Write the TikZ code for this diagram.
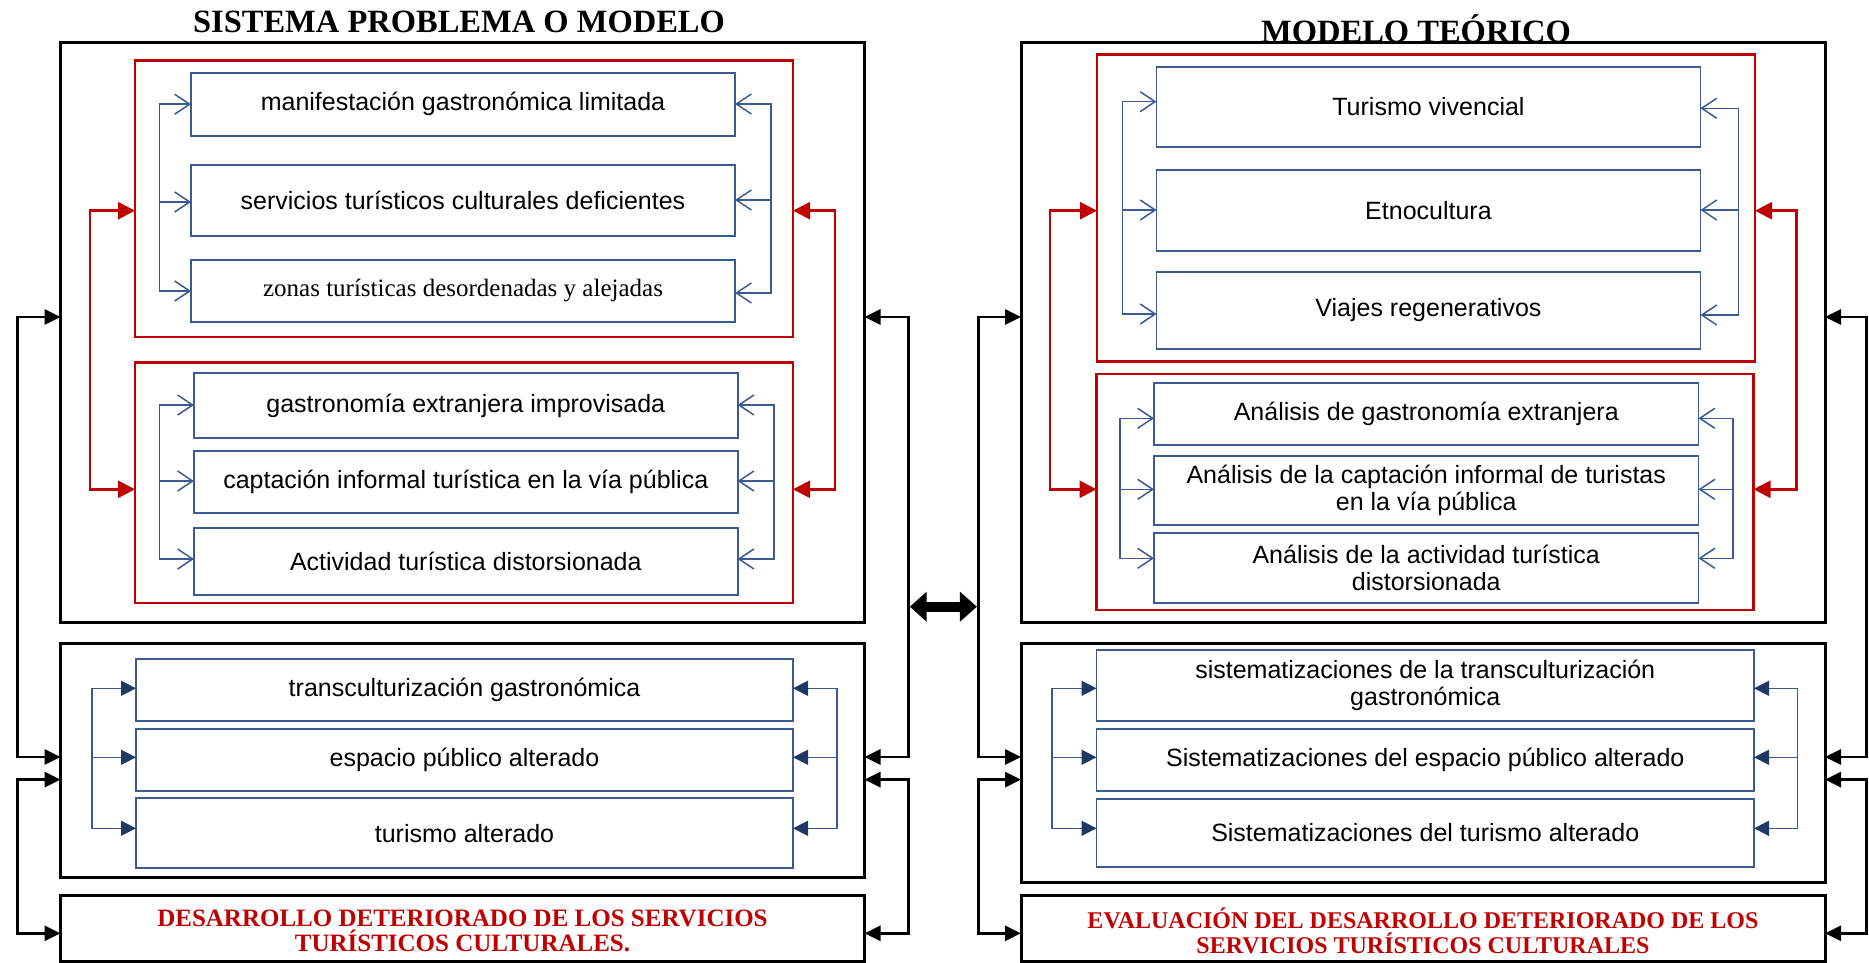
\documentclass[tikz,border=0pt]{standalone}
\usepackage{fontspec}
\setmainfont{Liberation Serif}
\setsansfont{Liberation Sans}
\usetikzlibrary{arrows.meta}
\definecolor{myred}{RGB}{192,0,0}
\definecolor{myblue}{RGB}{60,90,145}
\definecolor{navy}{RGB}{31,56,100}
\newcommand{\mybox}[7]{\node[#1, minimum width={(#5)-(#3)}, minimum height={(#6)-(#4)}] (#2) at ({((#3)+(#5))/2},{((#4)+(#6))/2}) {#7};}
% blue bracket: style prefix, side, x, A, B, C, ya, yb, yc
\newcommand{\brk}[9]{%
 \coordinate (#4#2k) at (#3,#7); \coordinate (#5#2k) at (#3,#8); \coordinate (#6#2k) at (#3,#9);
 \draw[#1two] (#4.#2 |- #4#2k) -- (#4#2k) -- (#6#2k) -- (#6.#2 |- #6#2k);
 \draw[#1one] (#5#2k) -- (#5.#2 |- #5#2k);}
% two-ended bracket: style, side, x, A, B, ya, yb
\newcommand{\tbrk}[7]{%
 \coordinate (#4#2#5a) at (#3,#6); \coordinate (#4#2#5b) at (#3,#7);
 \draw[#1] (#4.#2 |- #4#2#5a) -- (#4#2#5a) -- (#4#2#5b) -- (#5.#2 |- #4#2#5b);}
\tikzset{
 blackbox/.style={draw=black, line width=3pt, inner sep=0pt, outer sep=0pt},
 redbox/.style={draw=myred, line width=2.5pt, inner sep=0pt, outer sep=0pt},
 bluebox/.style={draw=myblue, line width=1.8pt, fill=white, inner sep=0pt, outer sep=0pt, align=center, font=\sffamily\fontsize{25}{27}\selectfont},
 serifblue/.style={bluebox, font=\rmfamily\fontsize{25}{27}\selectfont},
 titletext/.style={inner sep=0pt, anchor=base, font=\bfseries\fontsize{32.5}{36}\selectfont},
 redlabel/.style={inner sep=0pt, text=myred, align=center, font=\bfseries\fontsize{25}{25}\selectfont},
 redlabelb/.style={redlabel, font=\bfseries\fontsize{24}{25}\selectfont},
 barbone/.style={draw=myblue, line width=1.5pt, -{Straight Barb[length=15pt,width=20pt]}},
 barbtwo/.style={draw=myblue, line width=1.5pt, {Straight Barb[length=15pt,width=20pt]}-{Straight Barb[length=15pt,width=20pt]}},
 trione/.style={draw=myblue, line width=1.5pt, -{Triangle[length=15pt,width=15pt,color=navy,fill=navy]}},
 tritwo/.style={draw=myblue, line width=1.5pt, {Triangle[length=15pt,width=15pt,color=navy,fill=navy]}-{Triangle[length=15pt,width=15pt,color=navy,fill=navy]}},
 redtwo/.style={draw=myred, line width=2.5pt, {Triangle[length=17pt,width=17pt]}-{Triangle[length=17pt,width=17pt]}},
 blacktwo/.style={draw=black, line width=2.8pt, {Triangle[length=16pt,width=15pt]}-{Triangle[length=16pt,width=15pt]}},
 dblarrow/.style={draw=black, line width=10pt, {Triangle[length=17pt,width=29pt]}-{Triangle[length=17pt,width=29pt]}},
}
\begin{document}
\begin{tikzpicture}[x=1pt, y=-1pt]
\useasboundingbox (0,0) rectangle (1869,963);
% ---------------- left diagram ----------------
\node[titletext] (tl) at (459,33) {SISTEMA PROBLEMA O MODELO};
\mybox{blackbox}{bigL}{60.5}{42.5}{864.5}{622}{}
\mybox{redbox}{redLa}{135}{60.7}{793}{337}{}
\mybox{bluebox}{La}{191}{72.7}{735}{135.7}{manifestación gastronómica limitada}
\mybox{bluebox}{Lb}{191}{165}{735}{235.7}{servicios turísticos culturales deficientes}
\mybox{serifblue}{Lc}{191}{260}{735}{322}{zonas turísticas desordenadas y alejadas}
\mybox{redbox}{redLb}{135}{362.7}{793}{603}{}
\mybox{bluebox}{Ld}{194}{372.7}{737.6}{438.3}{gastronomía extranjera improvisada}
\mybox{bluebox}{Le}{194}{451}{737.6}{513}{captación informal turística en la vía pública}
\mybox{bluebox}{Lf}{194}{527.7}{737.6}{595}{Actividad turística distorsionada}
\mybox{blackbox}{midL}{60.5}{643.3}{864.5}{877.7}{}
\mybox{bluebox}{Lg}{136}{659.3}{793}{721}{transculturización gastronómica}
\mybox{bluebox}{Lh}{136}{729.3}{793}{791.3}{espacio público alterado}
\mybox{bluebox}{Li}{136}{798.3}{793}{868.3}{turismo alterado}
\mybox{blackbox}{botL}{60.5}{895}{864.5}{961}{}
\node[redlabel] (botLt) at ([yshift=-3pt]botL.center) {DESARROLLO DETERIORADO DE LOS SERVICIOS\\TURÍSTICOS CULTURALES.};
\brk{barb}{west}{159.6}{La}{Lb}{Lc}{104.2}{202}{291}
\brk{barb}{east}{771}{La}{Lb}{Lc}{104}{200}{293}
\brk{barb}{west}{159.6}{Ld}{Le}{Lf}{405}{481}{559}
\brk{barb}{east}{773.8}{Ld}{Le}{Lf}{405}{481}{559}
\brk{tri}{west}{92}{Lg}{Lh}{Li}{688.3}{757.3}{828.3}
\brk{tri}{east}{837}{Lg}{Lh}{Li}{688.3}{757.3}{828.3}
\tbrk{redtwo}{west}{90}{redLa}{redLb}{210.7}{489.3}
\tbrk{redtwo}{east}{835}{redLa}{redLb}{210.7}{489.3}
\tbrk{blacktwo}{west}{17.3}{bigL}{midL}{317}{757}
\tbrk{blacktwo}{west}{17.3}{midL}{botL}{779.6}{933.3}
\tbrk{blacktwo}{east}{908.3}{bigL}{midL}{317}{757}
\tbrk{blacktwo}{east}{908.3}{midL}{botL}{779.6}{933.3}
% ---------------- right diagram ----------------
\mybox{blackbox}{bigR}{1021}{42.7}{1825}{622.3}{}
\node[titletext] (tr) at (1416,42.5) {MODELO TEÓRICO};
\mybox{redbox}{redRa}{1097}{54.3}{1755}{361.7}{}
\mybox{bluebox}{Ra}{1156.5}{66.7}{1700.4}{146.7}{Turismo vivencial}
\mybox{bluebox}{Rb}{1156.5}{170}{1700.4}{251}{Etnocultura}
\mybox{bluebox}{Rc}{1156.5}{272}{1700.4}{349}{Viajes regenerativos}
\mybox{redbox}{redRb}{1096.5}{374}{1753.5}{610}{}
\mybox{bluebox}{Rd}{1154}{382.7}{1698.5}{445}{Análisis de gastronomía extranjera}
\mybox{bluebox}{Re}{1154}{456}{1698.5}{525}{Análisis de la captación informal de turistas\\en la vía pública}
\mybox{bluebox}{Rf}{1154}{533.3}{1698.5}{602.7}{Análisis de la actividad turística\\distorsionada}
\mybox{blackbox}{midR}{1021}{643.3}{1825}{882.3}{}
\mybox{bluebox}{Rg}{1096.5}{650}{1754}{721}{sistematizaciones de la transculturización\\gastronómica}
\mybox{bluebox}{Rh}{1096.5}{729.3}{1754}{791.3}{Sistematizaciones del espacio público alterado}
\mybox{bluebox}{Ri}{1096.5}{798.7}{1754}{867.3}{Sistematizaciones del turismo alterado}
\mybox{blackbox}{botR}{1021}{895}{1825}{961}{}
\node[redlabelb] (botRt) at ([yshift=-3pt]botR.center) {EVALUACIÓN DEL DESARROLLO DETERIORADO DE LOS\\SERVICIOS TURÍSTICOS CULTURALES};
\brk{barb}{west}{1122.5}{Ra}{Rb}{Rc}{101.7}{210}{314}
\brk{barb}{east}{1738.7}{Ra}{Rb}{Rc}{108.3}{210}{315}
\brk{barb}{west}{1120}{Rd}{Re}{Rf}{418.3}{489.3}{558.3}
\brk{barb}{east}{1733}{Rd}{Re}{Rf}{418.3}{489.3}{558.3}
\brk{tri}{west}{1052}{Rg}{Rh}{Ri}{688.3}{757.3}{828.3}
\brk{tri}{east}{1797.4}{Rg}{Rh}{Ri}{688.3}{757.3}{828.3}
\tbrk{redtwo}{west}{1050}{redRa}{redRb}{210.7}{489.3}
\tbrk{redtwo}{east}{1796.7}{redRa}{redRb}{210.7}{489.3}
\tbrk{blacktwo}{west}{978.3}{bigR}{midR}{317}{757}
\tbrk{blacktwo}{west}{978.3}{midR}{botR}{779.6}{933.3}
\tbrk{blacktwo}{east}{1866.5}{bigR}{midR}{317}{757}
\tbrk{blacktwo}{east}{1866.5}{midR}{botR}{779.6}{933.3}
% ---------------- central double arrow ----------------
\coordinate (dL) at (909.7,606.7);
\coordinate (dR) at (976.9,606.7);
\draw[dblarrow] (dL) -- (dR);
\end{tikzpicture}
\end{document}
